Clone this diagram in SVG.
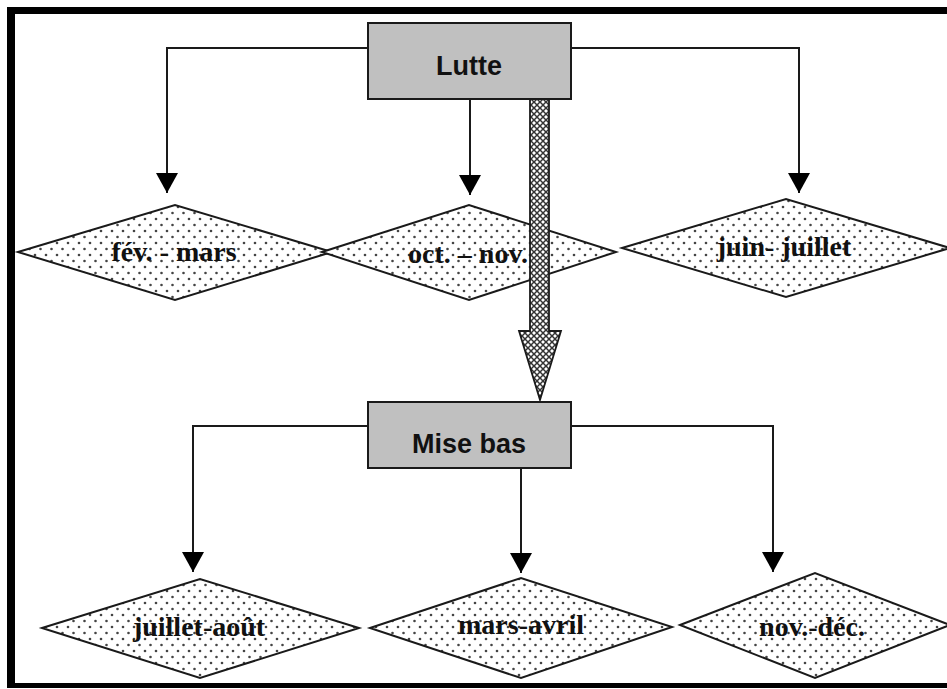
<svg xmlns="http://www.w3.org/2000/svg" width="947" height="689" viewBox="0 0 947 689">
  <style>
    .box { fill: #c0c0c0; stroke: #1a1a1a; stroke-width: 2; }
    .boxlabel { font-family: "Liberation Sans", Arial, sans-serif; font-weight: bold; font-size: 27px; fill: #111; text-anchor: middle; }
    .dia { fill: url(#dots); stroke: #1a1a1a; stroke-width: 2; stroke-linejoin: miter; }
    .dialabel { font-family: "Liberation Serif", "Times New Roman", serif; font-weight: bold; font-size: 28px; fill: #111; text-anchor: middle; }
    .link { fill: none; stroke: #1a1a1a; stroke-width: 2; marker-end: url(#arrow); }
    .frame { fill: #000; }
  </style>
  <defs>
    <pattern id="dots" patternUnits="userSpaceOnUse" width="11" height="12">
      <rect width="11" height="12" fill="#fff"/>
      <circle cx="2" cy="3" r="1.3" fill="#444"/>
      <circle cx="7.5" cy="9" r="1.3" fill="#444"/>
    </pattern>
    <pattern id="hatch" patternUnits="userSpaceOnUse" width="6" height="6">
      <rect width="6" height="6" fill="#fff"/>
      <path d="M0,0 L6,6 M6,0 L0,6" stroke="#333" stroke-width="1.5"/>
    </pattern>
    <marker id="arrow" markerUnits="userSpaceOnUse" markerWidth="20" markerHeight="22" viewBox="0 -11 20 22" refX="20" refY="0" orient="auto">
      <path d="M0,-11 L20,0 L0,11 Z" fill="#000"/>
    </marker>
  </defs>

  <!-- outer frame (open on the right side) -->
  <g id="frame">
    <rect class="frame" x="7" y="7" width="940" height="7"/>
    <rect class="frame" x="7" y="7" width="8" height="681"/>
    <rect class="frame" x="7" y="683" width="940" height="5"/>
  </g>

  <!-- connectors -->
  <g id="connectors">
    <path class="link" d="M368,48 H167 V193"/>
    <path class="link" d="M571,48 H799 V193"/>
    <path class="link" d="M470,99 V195"/>
    <path class="link" d="M368,426 H193 V572"/>
    <path class="link" d="M571,426 H773 V572"/>
    <path class="link" d="M521,468 V573"/>
  </g>

  <!-- first-row diamonds -->
  <g id="d-fev-mars">
    <polygon class="dia" points="18,252 175,205 332,252 175,300"/>
    <text class="dialabel" x="174" y="261">fév. - mars</text>
  </g>
  <g id="d-oct-nov">
    <polygon class="dia" points="322,252 469,205 616,252 469,300"/>
    <text class="dialabel" x="468" y="263">oct. – nov.</text>
  </g>
  <g id="d-juin-juillet">
    <polygon class="dia" points="622,248 786,199 950,248 786,297"/>
    <text class="dialabel" x="784" y="256">juin- juillet</text>
  </g>

  <!-- wide hatched arrow from Lutte to Mise bas -->
  <g id="big-arrow">
    <path d="M530,99 H549 V331 H561 L540,400 L519,331 H530 Z" fill="url(#hatch)" stroke="#1a1a1a" stroke-width="1.8" stroke-linejoin="miter"/>
  </g>

  <g id="n-lutte">
    <rect class="box" x="368" y="23" width="203" height="76"/>
    <text class="boxlabel" x="469" y="75">Lutte</text>
  </g>

  <g id="n-mise-bas">
    <rect class="box" x="368" y="402" width="203" height="66"/>
    <text class="boxlabel" x="469" y="453">Mise bas</text>
  </g>

  <!-- second-row diamonds -->
  <g id="d-juillet-aout">
    <polygon class="dia" points="42,628 200,579 359,628 200,678"/>
    <text class="dialabel" x="199" y="636">juillet-août</text>
  </g>
  <g id="d-mars-avril">
    <polygon class="dia" points="370,628 521,578 672,627 521,678"/>
    <text class="dialabel" x="521" y="634">mars-avril</text>
  </g>
  <g id="d-nov-dec">
    <polygon class="dia" points="680,625 815,573 950,625 815,678"/>
    <text class="dialabel" x="812" y="636">nov.-déc.</text>
  </g>
</svg>
